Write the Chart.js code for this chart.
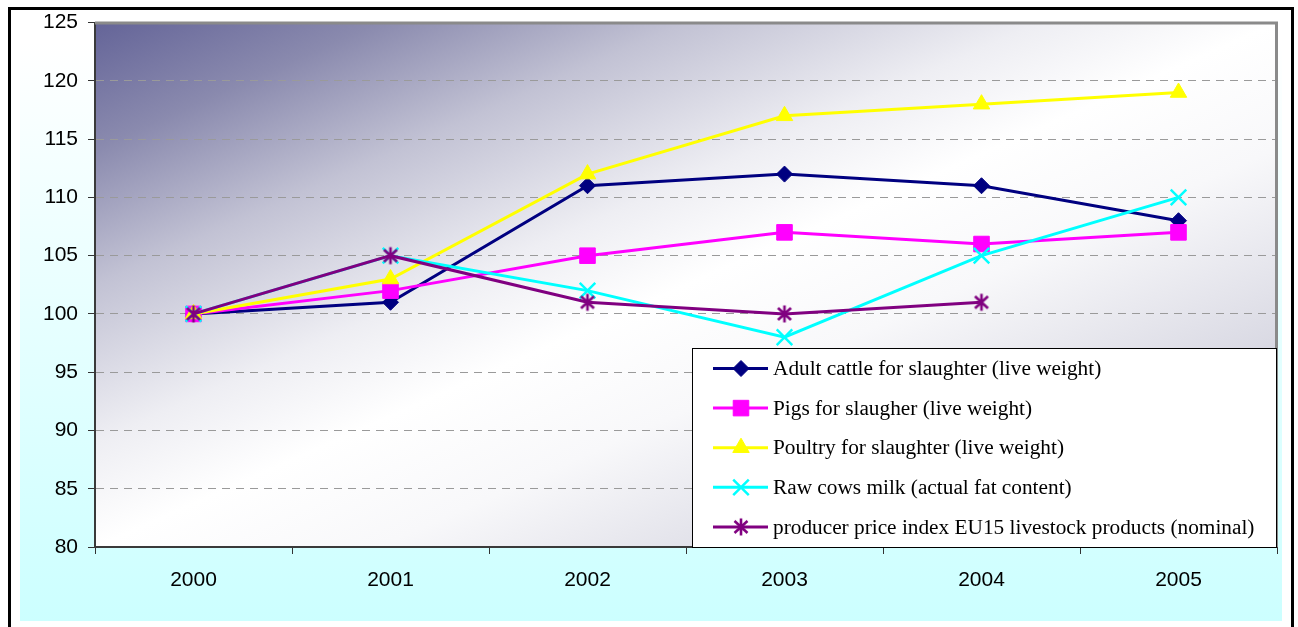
<!DOCTYPE html>
<html>
<head>
<meta charset="utf-8">
<script src="https://cdn.jsdelivr.net/npm/chart.js@4"></script>
<style>
  html, body { margin: 0; padding: 0; background: #fff; overflow: hidden; }
  #wrap { position: relative; width: 1298px; height: 627px; }
</style>
</head>
<body>
<div id="wrap"><canvas id="c" width="1298" height="627"></canvas></div>
<script>
// Producer price indices, 2000 = 100
const years   = ['2000', '2001', '2002', '2003', '2004', '2005'];
const cattle  = [100, 101, 111, 112, 111, 108];
const pigs    = [100, 102, 105, 107, 106, 107];
const poultry = [100, 103, 112, 117, 118, 119];
const milk    = [100, 105, 102, 98, 105, 110];
const ppi     = [100, 105, 101, 100, 101, null];

const seriesNames = [
  'Adult cattle for slaughter (live weight)',
  'Pigs for slaugher (live weight)',
  'Poultry for slaughter (live weight)',
  'Raw cows milk (actual fat content)',
  'producer price index EU15 livestock products (nominal)'
];
const yMin = 80, yMax = 125, yStep = 5;

// asterisk marker: vertical bar plus a diagonal cross
function makeStar(color) {
  const c = document.createElement('canvas');
  c.width = 20; c.height = 20;
  const g = c.getContext('2d');
  g.strokeStyle = color;
  g.lineWidth = 2.6;
  g.beginPath();
  g.moveTo(10, 1.5); g.lineTo(10, 18.5);
  g.moveTo(3.5, 4); g.lineTo(16.5, 16);
  g.moveTo(16.5, 4); g.lineTo(3.5, 16);
  g.stroke();
  return c;
}
const starMarker = makeStar('#800080');

function series(label, data, color, style, radius, order, extra) {
  return Object.assign({
    label, data,
    borderColor: color,
    backgroundColor: color,
    pointBackgroundColor: color,
    pointBorderColor: color,
    borderWidth: 3,
    pointStyle: style,
    pointRadius: radius,
    pointHoverRadius: radius,
    pointBorderWidth: 1,
    tension: 0,
    spanGaps: false,
    order
  }, extra || {});
}

const datasets = [
  series(seriesNames[0], cattle,  '#000080', 'rectRot',  8,   4),
  series(seriesNames[1], pigs,    '#ff00ff', 'rect',     11,  3),
  series(seriesNames[2], poultry, '#ffff00', 'triangle', 9.5, 2),
  series(seriesNames[3], milk,    '#00ffff', 'crossRot', 11,  1, { pointBorderWidth: 2.5 }),
  series(seriesNames[4], ppi,     '#800080', starMarker, 10,  0)
];

// backgrounds: outer frame, cyan panel, diagonal plot-area gradient
const backdrop = {
  id: 'backdrop',
  beforeDraw(chart) {
    const ctx = chart.ctx;
    const a = chart.chartArea;
    ctx.save();
    ctx.fillStyle = '#ffffff';
    ctx.fillRect(0, 0, chart.width, chart.height);

    const vg = ctx.createLinearGradient(0, 42, 0, 621);
    vg.addColorStop(0, '#ffffff');
    vg.addColorStop(1, '#ccffff');
    ctx.fillStyle = vg;
    ctx.fillRect(20, 42, 1262, 579);

    ctx.strokeStyle = '#000000';
    ctx.lineWidth = 3;
    ctx.strokeRect(9.5, 8.5, 1283, 640);

    const W = a.right - a.left, H = a.bottom - a.top;
    const cx = (a.left + a.right) / 2, cy = (a.top + a.bottom) / 2;
    const k = (W * H) / (W * W + H * H);
    const pg = ctx.createLinearGradient(cx - H * k, cy - W * k, cx + H * k, cy + W * k);
    pg.addColorStop(0, '#646498');
    pg.addColorStop(0.12, '#8a8aae');
    pg.addColorStop(0.25, '#c2c2d4');
    pg.addColorStop(0.4, '#eeeef3');
    pg.addColorStop(0.5, '#ffffff');
    pg.addColorStop(0.62, '#f8f8fa');
    pg.addColorStop(0.8, '#dadae4');
    pg.addColorStop(1, '#a6a6c0');
    ctx.fillStyle = pg;
    ctx.fillRect(a.left, a.top, W, H);
    ctx.restore();
  },
  beforeDatasetsDraw(chart) {
    const ctx = chart.ctx;
    const a = chart.chartArea;
    ctx.save();
    ctx.strokeStyle = '#8a8a8a';
    ctx.lineWidth = 3;
    ctx.beginPath();
    ctx.moveTo(a.left, a.top + 0.5);
    ctx.lineTo(a.right - 0.5, a.top + 0.5);
    ctx.lineTo(a.right - 0.5, a.bottom);
    ctx.stroke();
    ctx.restore();
  }
};

// boxed legend in the lower right of the plot area
const boxLegend = {
  id: 'boxLegend',
  afterDraw(chart) {
    const ctx = chart.ctx;
    const a = chart.chartArea;
    const x0 = 692, y0 = 348, x1 = a.right, y1 = a.bottom;
    ctx.save();
    ctx.fillStyle = '#ffffff';
    ctx.fillRect(x0, y0, x1 - x0, y1 - y0);
    ctx.strokeStyle = '#000000';
    ctx.lineWidth = 1;
    ctx.strokeRect(x0 + 0.5, y0 + 0.5, x1 - x0 - 1, y1 - y0);
    ctx.font = '21.3px "Liberation Serif", "Times New Roman", serif';
    ctx.textBaseline = 'middle';
    ctx.fillStyle = '#000000';
    chart.data.datasets.forEach((ds, i) => {
      const y = 368.5 + i * 39.6;
      ctx.strokeStyle = ds.borderColor;
      ctx.lineWidth = 3;
      ctx.beginPath();
      ctx.moveTo(713, y);
      ctx.lineTo(768, y);
      ctx.stroke();
      ctx.fillStyle = ds.pointBackgroundColor;
      ctx.strokeStyle = ds.pointBorderColor;
      ctx.lineWidth = ds.pointBorderWidth;
      Chart.helpers.drawPoint(ctx, {
        pointStyle: ds.pointStyle,
        radius: ds.pointRadius,
        rotation: 0,
        borderWidth: ds.pointBorderWidth
      }, 741, y);
      ctx.fillStyle = '#000000';
      ctx.fillText(ds.label, 773, y + 1);
    });
    ctx.restore();
  }
};

const tickFont = { family: '"Liberation Sans", Arial, sans-serif', size: 21 };

new Chart(document.getElementById('c'), {
  type: 'line',
  data: { labels: years, datasets },
  options: {
    responsive: false,
    animation: false,
    devicePixelRatio: 1,
    layout: { padding: { left: 0, right: 21, top: 21, bottom: 0 } },
    plugins: {
      legend: { display: false },
      tooltip: { enabled: false }
    },
    scales: {
      x: {
        offset: true,
        afterFit(s) { s.height = 80; },
        grid: {
          offset: true,
          drawOnChartArea: false,
          drawTicks: true,
          tickLength: 7,
          tickColor: '#333333',
          tickWidth: 1
        },
        border: { display: true, color: '#3a3a3a', width: 2 },
        ticks: { color: '#000000', font: tickFont, padding: 14, maxRotation: 0 }
      },
      y: {
        min: yMin,
        max: yMax,
        afterFit(s) { s.width = 95; },
        grid: {
          color: '#9a9a9a',
          lineWidth: 1,
          tickLength: 7,
          tickColor: '#333333',
          tickWidth: 1
        },
        border: { display: true, color: '#3a3a3a', width: 2, dash: [8, 6] },
        ticks: { stepSize: yStep, color: '#000000', font: tickFont, padding: 10 }
      }
    }
  },
  plugins: [backdrop, boxLegend]
});
</script>
</body>
</html>
